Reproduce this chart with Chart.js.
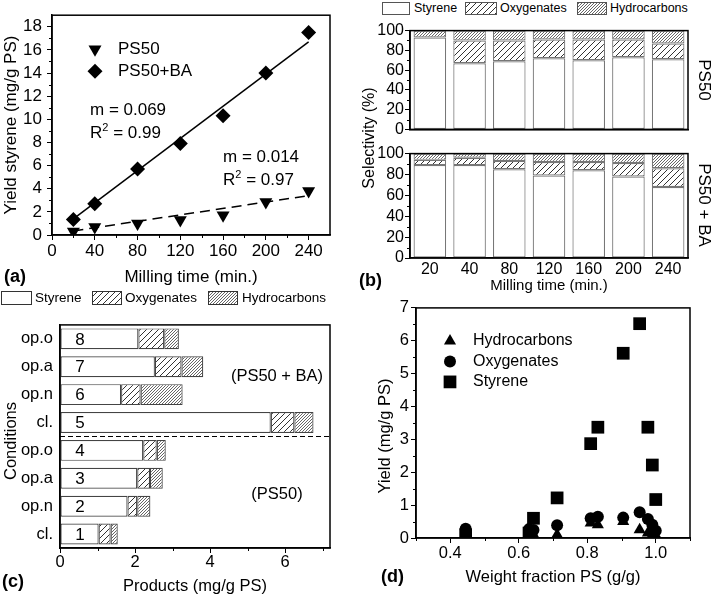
<!DOCTYPE html>
<html>
<head>
<meta charset="utf-8">
<script src="https://cdn.jsdelivr.net/npm/chart.js@4.4.1/dist/chart.umd.min.js"></script>
<style>
  body { margin: 0; background: #fff; font-family: 'Liberation Sans', Arial, sans-serif; color: #000; }
  #page { position: relative; width: 717px; height: 596px; overflow: hidden; }
  canvas { position: absolute; }
  .t { position: absolute; white-space: nowrap; }
  .vt { position: absolute; white-space: nowrap; transform: translate(-50%, -50%) rotate(-90deg); }
  .vt.cw { transform: translate(-50%, -50%) rotate(90deg); }
  .panel { font-weight: bold; font-size: 18px; line-height: 20px; }
  sup { font-size: 11px; vertical-align: 0; position: relative; top: -7px; }
</style>
</head>
<body>
<div id="page">
  <!-- (a) -->
  <canvas id="chartA" width="355" height="292" style="left:0;top:0"></canvas>
  <div class="vt" style="left:11px;top:125px;font-size:17px">Yield styrene (mg/g PS)</div>
  <div class="t" style="left:90px;top:100px;font-size:17px;line-height:20px">m = 0.069</div>
  <div class="t" style="left:90px;top:123px;font-size:17px;line-height:20px">R<sup>2</sup> = 0.99</div>
  <div class="t" style="left:223px;top:147px;font-size:17px;line-height:20px">m = 0.014</div>
  <div class="t" style="left:223px;top:170px;font-size:17px;line-height:20px">R<sup>2</sup> = 0.97</div>
  <div class="t panel" style="left:4px;top:266px">(a)</div>

  <!-- (b) -->
  <canvas id="keyB1" width="28" height="13" style="left:382px;top:2px"></canvas>
  <div class="t" style="left:414px;top:1px;font-size:12.5px;line-height:15px">Styrene</div>
  <canvas id="keyB2" width="32" height="13" style="left:465px;top:2px"></canvas>
  <div class="t" style="left:500px;top:1px;font-size:12.5px;line-height:15px">Oxygenates</div>
  <canvas id="keyB3" width="30" height="13" style="left:577px;top:2px"></canvas>
  <div class="t" style="left:610px;top:1px;font-size:12.5px;line-height:15px">Hydrocarbons</div>
  <canvas id="chartB1" width="347" height="120" style="left:370px;top:20px"></canvas>
  <canvas id="chartB2" width="347" height="153" style="left:370px;top:143px"></canvas>
  <div class="vt" style="left:369px;top:138px;font-size:16px">Selectivity (%)</div>
  <div class="vt cw" style="left:704px;top:80px;font-size:17px">PS50</div>
  <div class="vt cw" style="left:704px;top:205px;font-size:17px">PS50 + BA</div>
  <div class="t panel" style="left:359px;top:270px">(b)</div>

  <!-- (c) -->
  <canvas id="keyC1" width="31" height="14" style="left:1px;top:291px"></canvas>
  <div class="t" style="left:35px;top:290px;font-size:13.5px;line-height:16px">Styrene</div>
  <canvas id="keyC2" width="30" height="14" style="left:92px;top:291px"></canvas>
  <div class="t" style="left:125px;top:290px;font-size:13.5px;line-height:16px">Oxygenates</div>
  <canvas id="keyC3" width="30" height="14" style="left:208px;top:291px"></canvas>
  <div class="t" style="left:242px;top:290px;font-size:13.5px;line-height:16px">Hydrocarbons</div>
  <canvas id="chartC" width="355" height="288" style="left:0;top:308px"></canvas>
  <div class="vt" style="left:10px;top:441px;font-size:16.5px">Conditions</div>
  <div class="t" style="left:277px;top:375px;font-size:16.5px;transform:translate(-50%,-50%)">(PS50 + BA)</div>
  <div class="t" style="left:277px;top:493px;font-size:16.5px;transform:translate(-50%,-50%)">(PS50)</div>
  <div class="t panel" style="left:2px;top:571px">(c)</div>

  <!-- (d) -->
  <canvas id="chartD" width="347" height="300" style="left:370px;top:296px"></canvas>
  <div class="vt" style="left:384px;top:436px;font-size:16.5px">Yield (mg/g PS)</div>
  <div class="t panel" style="left:381px;top:566px">(d)</div>
</div>

<script>
// ---- (a) styrene yield vs milling time ----
const millTime = [20, 40, 80, 120, 160, 200, 240];
const yieldPS50 = [0.3, 0.7, 1.0, 1.3, 1.7, 2.85, 3.8];
const yieldPS50BA = [1.35, 2.7, 5.7, 7.9, 10.3, 14.0, 17.5];
const fitTime = [20, 240];
const fitPS50 = [0.35, 3.4];
const fitPS50BA = [1.4, 16.7];
const ticksAx = [0, 40, 80, 120, 160, 200, 240];
const minorAx = [20, 60, 100, 140, 180, 220];
const ticksAy = [0, 2, 4, 6, 8, 10, 12, 14, 16, 18];
const minorAy = [1, 3, 5, 7, 9, 11, 13, 15, 17];

// ---- (b) selectivity (%) ----
const timeLabels = ['20', '40', '80', '120', '160', '200', '240'];
const selStyPS50 = [93, 67, 69, 72, 70, 73, 71];
const selOxyPS50 = [0, 23, 21, 19, 21, 18, 16];
const selHydPS50 = [7, 10, 10, 9, 9, 9, 13];
const selStyBA = [89, 89, 85, 79, 84, 78, 68];
const selOxyBA = [5, 7, 8, 13, 8, 13, 18];
const selHydBA = [6, 4, 7, 8, 8, 9, 14];
const ticksBy = [0, 20, 40, 60, 80, 100];
const minorBy = [10, 30, 50, 70, 90];

// ---- (c) products per condition (top to bottom) ----
const condLabels = ['op.o', 'op.a', 'op.n', 'cl.', 'op.o', 'op.a', 'op.n', 'cl.'];
const condNumbers = ['8', '7', '6', '5', '4', '3', '2', '1'];
const prodSty = [2.09, 2.53, 1.63, 5.62, 2.22, 2.06, 1.80, 1.03];
const prodOxy = [0.69, 0.71, 0.52, 0.63, 0.36, 0.34, 0.26, 0.32];
const prodHyd = [0.39, 0.58, 1.12, 0.51, 0.24, 0.34, 0.35, 0.19];
const ticksCx = [0, 2, 4, 6];
const minorCx = [1, 3, 5, 7];

// ---- (d) yield vs weight fraction PS ----
const psFraction = [0.445, 0.63, 0.643, 0.712, 0.81, 0.831, 0.905, 0.953, 0.977, 0.99, 1.0];
const yieldHyd = [0.1, 0.1, 0.1, 0.1, 0.46, 0.4, 0.5, 0.25, 0.15, 0.1, 0.08];
const yieldOxy = [0.28, 0.27, 0.24, 0.39, 0.6, 0.65, 0.62, 0.78, 0.58, 0.4, 0.22];
const yieldSty = [0.1, 0.15, 0.6, 1.22, 2.87, 3.37, 5.62, 6.52, 3.37, 2.22, 1.17];
const ticksDx = [0.4, 0.6, 0.8, 1.0];
const minorDx = [0.3, 0.5, 0.7, 0.9, 1.1];
const ticksDy = [0, 1, 2, 3, 4, 5, 6, 7];
const minorDy = [0.5, 1.5, 2.5, 3.5, 4.5, 5.5, 6.5];

const FONT = "'Liberation Sans', Arial, sans-serif";
Chart.defaults.font.family = FONT;
Chart.defaults.color = '#000';
Chart.defaults.animation = false;
Chart.defaults.plugins.legend.display = false;
Chart.defaults.plugins.tooltip.enabled = false;

function hatch(step, color) {
    const c = document.createElement('canvas');
    c.width = c.height = step;
    const g = c.getContext('2d');
    g.fillStyle = '#fff';
    g.fillRect(0, 0, step, step);
    g.strokeStyle = color;
    g.lineWidth = 1;
    g.beginPath();
    g.moveTo(-1, step + 1); g.lineTo(step + 1, -1);
    g.moveTo(-step / 2 - 1, step / 2 + 1); g.lineTo(step / 2 + 1, -step / 2 - 1);
    g.moveTo(step / 2 - 1, step * 1.5 + 1); g.lineTo(step * 1.5 + 1, step / 2 - 1);
    g.stroke();
    return g.createPattern(c, 'repeat');
}
const oxyFill = hatch(6, '#333');
const hydFill = hatch(3, '#666');

function key(id, fill, border) {
    const c = document.getElementById(id);
    const g = c.getContext('2d');
    g.fillStyle = fill;
    g.fillRect(0, 0, c.width, c.height);
    g.strokeStyle = border;
    g.lineWidth = 1;
    g.strokeRect(0.5, 0.5, c.width - 1, c.height - 1);
}
key('keyB1', '#fff', '#555'); key('keyB2', oxyFill, '#555'); key('keyB3', hydFill, '#555');
key('keyC1', '#fff', '#333'); key('keyC2', oxyFill, '#333'); key('keyC3', hydFill, '#333');

// box around the plot area, like the original
const frame = {
    id: 'frame',
    afterDraw(chart) {
        const { ctx, chartArea: a } = chart;
        ctx.save();
        ctx.strokeStyle = '#000';
        ctx.lineWidth = 1.5;
        ctx.strokeRect(a.left, a.top, a.right - a.left, a.bottom - a.top);
        ctx.restore();
    }
};

// short outward ticks between the labelled ones
const minorTicks = {
    id: 'minorTicks',
    afterDraw(chart, args, opts) {
        const { ctx, chartArea: a } = chart;
        ctx.save();
        ctx.strokeStyle = '#000';
        ctx.lineWidth = 1;
        for (const id in (opts.axes || {})) {
            const s = chart.scales[id];
            for (const v of opts.axes[id]) {
                if (v < s.min || v > s.max) continue;
                const p = Math.round(s.getPixelForValue(v)) + 0.5;
                ctx.beginPath();
                if (s.isHorizontal()) { ctx.moveTo(p, a.bottom); ctx.lineTo(p, a.bottom + 3); }
                else { ctx.moveTo(a.left, p); ctx.lineTo(a.left - 3, p); }
                ctx.stroke();
            }
        }
        ctx.restore();
    }
};

// marker legend drawn inside the plot
const markLegend = {
    id: 'markLegend',
    afterDraw(chart, args, opts) {
        if (!opts.order) return;
        const { ctx, chartArea: a } = chart;
        ctx.save();
        ctx.font = opts.size + 'px ' + FONT;
        ctx.textBaseline = 'middle';
        opts.order.forEach((di, i) => {
            const ds = chart.data.datasets[di];
            const x = a.left + opts.x, y = a.top + opts.y + i * opts.gap;
            ctx.fillStyle = '#000';
            Chart.helpers.drawPoint(ctx, {
                pointStyle: ds.pointStyle, rotation: ds.rotation || 0,
                radius: ds.pointRadius, borderWidth: 0
            }, x, y);
            ctx.fillText(ds.label, x + opts.textGap, y);
        });
        ctx.restore();
    }
};

function fixSize(w, h) {
    return s => { if (w != null) s.width = w; if (h != null) s.height = h; };
}
function setTicks(list) {
    return s => { s.ticks = list.map(v => ({ value: v })); };
}
const outward = { drawOnChartArea: false, drawTicks: true, tickLength: 5, color: '#000', lineWidth: 1 };
const noGrid = { display: false, drawTicks: false, tickLength: 0 };
const border = { color: '#000', width: 1.5 };

// (a)
new Chart(document.getElementById('chartA'), {
    type: 'scatter',
    data: {
        datasets: [{
            label: 'PS50',
            data: millTime.map((t, i) => ({ x: t, y: yieldPS50[i] })),
            pointStyle: 'triangle', rotation: 180, pointRadius: 7.5,
            backgroundColor: '#000', borderWidth: 0
        }, {
            label: 'PS50+BA',
            data: millTime.map((t, i) => ({ x: t, y: yieldPS50BA[i] })),
            pointStyle: 'rectRot', pointRadius: 7.5,
            backgroundColor: '#000', borderWidth: 0
        }, {
            label: 'fit PS50',
            data: fitTime.map((t, i) => ({ x: t, y: fitPS50[i] })),
            showLine: true, pointRadius: 0, borderColor: '#000', borderWidth: 1.5, borderDash: [10, 6]
        }, {
            label: 'fit PS50+BA',
            data: fitTime.map((t, i) => ({ x: t, y: fitPS50BA[i] })),
            showLine: true, pointRadius: 0, borderColor: '#000', borderWidth: 1.5
        }]
    },
    options: {
        responsive: false,
        layout: { padding: { top: 1, right: 25, left: 0, bottom: 0 } },
        scales: {
            x: {
                type: 'linear', min: 0, max: 260,
                afterBuildTicks: setTicks(ticksAx), afterFit: fixSize(null, 57),
                grid: outward, border: border,
                ticks: { font: { size: 17 }, padding: 1, maxRotation: 0, autoSkip: false },
                title: { display: true, text: 'Milling time (min.)', font: { size: 17 }, padding: { top: 0, bottom: 4 } }
            },
            y: {
                min: 0, max: 19,
                afterBuildTicks: setTicks(ticksAy), afterFit: fixSize(52, null),
                grid: outward, border: border,
                ticks: { font: { size: 17 }, padding: 5, autoSkip: false }
            }
        },
        plugins: {
            minorTicks: { axes: { x: minorAx, y: minorAy } },
            markLegend: { order: [0, 1], x: 43, y: 34, gap: 22, textGap: 23, size: 17 }
        }
    },
    plugins: [frame, minorTicks, markLegend]
});

// (b)
function selChart(id, sty, oxy, hyd, showX, h) {
    return new Chart(document.getElementById(id), {
        type: 'bar',
        data: {
            labels: timeLabels,
            datasets: [
                { label: 'Styrene', data: sty, backgroundColor: '#fff' },
                { label: 'Oxygenates', data: oxy, backgroundColor: oxyFill },
                { label: 'Hydrocarbons', data: hyd, backgroundColor: hydFill }
            ].map(d => Object.assign(d, {
                borderColor: '#777', borderWidth: 1.2, borderSkipped: false,
                barPercentage: 0.82, categoryPercentage: 1
            }))
        },
        options: {
            responsive: false,
            layout: { padding: { top: 7, right: 29, left: 0, bottom: 0 } },
            scales: {
                x: {
                    stacked: true,
                    afterFit: fixSize(null, h),
                    grid: noGrid, border: border,
                    ticks: { display: showX, font: { size: 16 }, padding: 2, autoSkip: false, maxRotation: 0 },
                    title: { display: showX, text: 'Milling time (min.)', font: { size: 15 }, padding: { top: 0, bottom: 1 } }
                },
                y: {
                    stacked: true, min: 0, max: 100,
                    afterBuildTicks: setTicks(ticksBy), afterFit: fixSize(40, null),
                    grid: outward, border: border,
                    ticks: { font: { size: 16 }, padding: 1, autoSkip: false }
                }
            },
            plugins: { minorTicks: { axes: { y: minorBy } } }
        },
        plugins: [frame, minorTicks]
    });
}
selChart('chartB1', selStyPS50, selOxyPS50, selHydPS50, false, 5);
selChart('chartB2', selStyBA, selOxyBA, selHydBA, true, 38);

// (c)
const condExtras = {
    id: 'condExtras',
    afterDatasetsDraw(chart) {
        const { ctx, chartArea: a, scales: { y } } = chart;
        ctx.save();
        ctx.font = '17px ' + FONT;
        ctx.fillStyle = '#000';
        ctx.textAlign = 'center';
        ctx.textBaseline = 'middle';
        condNumbers.forEach((n, i) => ctx.fillText(n, a.left + 20, y.getPixelForTick(i) + 1));
        const mid = Math.round((y.getPixelForTick(3) + y.getPixelForTick(4)) / 2) + 0.5;
        ctx.strokeStyle = '#000';
        ctx.lineWidth = 1.2;
        ctx.setLineDash([5, 3]);
        ctx.beginPath();
        ctx.moveTo(a.left, mid);
        ctx.lineTo(a.right, mid);
        ctx.stroke();
        ctx.restore();
    }
};
new Chart(document.getElementById('chartC'), {
    type: 'bar',
    data: {
        labels: condLabels,
        datasets: [
            { label: 'Styrene', data: prodSty, backgroundColor: '#fff' },
            { label: 'Oxygenates', data: prodOxy, backgroundColor: oxyFill },
            { label: 'Hydrocarbons', data: prodHyd, backgroundColor: hydFill }
        ].map(d => Object.assign(d, {
            borderColor: '#444', borderWidth: 1.2, borderSkipped: false,
            barPercentage: 0.75, categoryPercentage: 1
        }))
    },
    options: {
        responsive: false,
        indexAxis: 'y',
        layout: { padding: { top: 6, right: 25, left: 0, bottom: 0 } },
        scales: {
            x: {
                stacked: true, min: 0, max: 7.2,
                afterBuildTicks: setTicks(ticksCx), afterFit: fixSize(null, 48),
                grid: outward, border: border,
                ticks: { font: { size: 16.5 }, padding: 0, autoSkip: false },
                title: { display: true, text: 'Products (mg/g PS)', font: { size: 16.5 }, padding: { top: 0, bottom: 0 } }
            },
            y: {
                stacked: true,
                afterFit: fixSize(60, null),
                grid: noGrid, border: border,
                ticks: { font: { size: 16.5 }, padding: 7, autoSkip: false }
            }
        },
        plugins: { minorTicks: { axes: { x: minorCx } } }
    },
    plugins: [frame, minorTicks, condExtras]
});

// (d)
new Chart(document.getElementById('chartD'), {
    type: 'scatter',
    data: {
        datasets: [{
            label: 'Hydrocarbons',
            data: psFraction.map((f, i) => ({ x: f, y: yieldHyd[i] })),
            pointStyle: 'triangle', pointRadius: 7
        }, {
            label: 'Oxygenates',
            data: psFraction.map((f, i) => ({ x: f, y: yieldOxy[i] })),
            pointStyle: 'circle', pointRadius: 6
        }, {
            label: 'Styrene',
            data: psFraction.map((f, i) => ({ x: f, y: yieldSty[i] })),
            pointStyle: 'rect', pointRadius: 9
        }].map(d => Object.assign(d, { backgroundColor: '#000', borderWidth: 0 }))
    },
    options: {
        responsive: false,
        layout: { padding: { top: 8, right: 27, left: 0, bottom: 0 } },
        scales: {
            x: {
                type: 'linear', min: 0.3, max: 1.1,
                afterBuildTicks: setTicks(ticksDx), afterFit: fixSize(null, 58),
                grid: outward, border: border,
                ticks: { font: { size: 16.5 }, padding: 1, autoSkip: false, callback: v => v.toFixed(1) },
                title: { display: true, text: 'Weight fraction PS (g/g)', font: { size: 16.5 }, padding: { top: 0, bottom: 9 } }
            },
            y: {
                min: 0, max: 7,
                afterBuildTicks: setTicks(ticksDy), afterFit: fixSize(46, null),
                grid: outward, border: border,
                ticks: { font: { size: 16.5 }, padding: 2, autoSkip: false }
            }
        },
        plugins: {
            minorTicks: { axes: { x: minorDx, y: minorDy } },
            markLegend: { order: [0, 1, 2], x: 34, y: 33, gap: 20.5, textGap: 23, size: 16 }
        }
    },
    plugins: [frame, minorTicks, markLegend]
});
</script>
</body>
</html>
